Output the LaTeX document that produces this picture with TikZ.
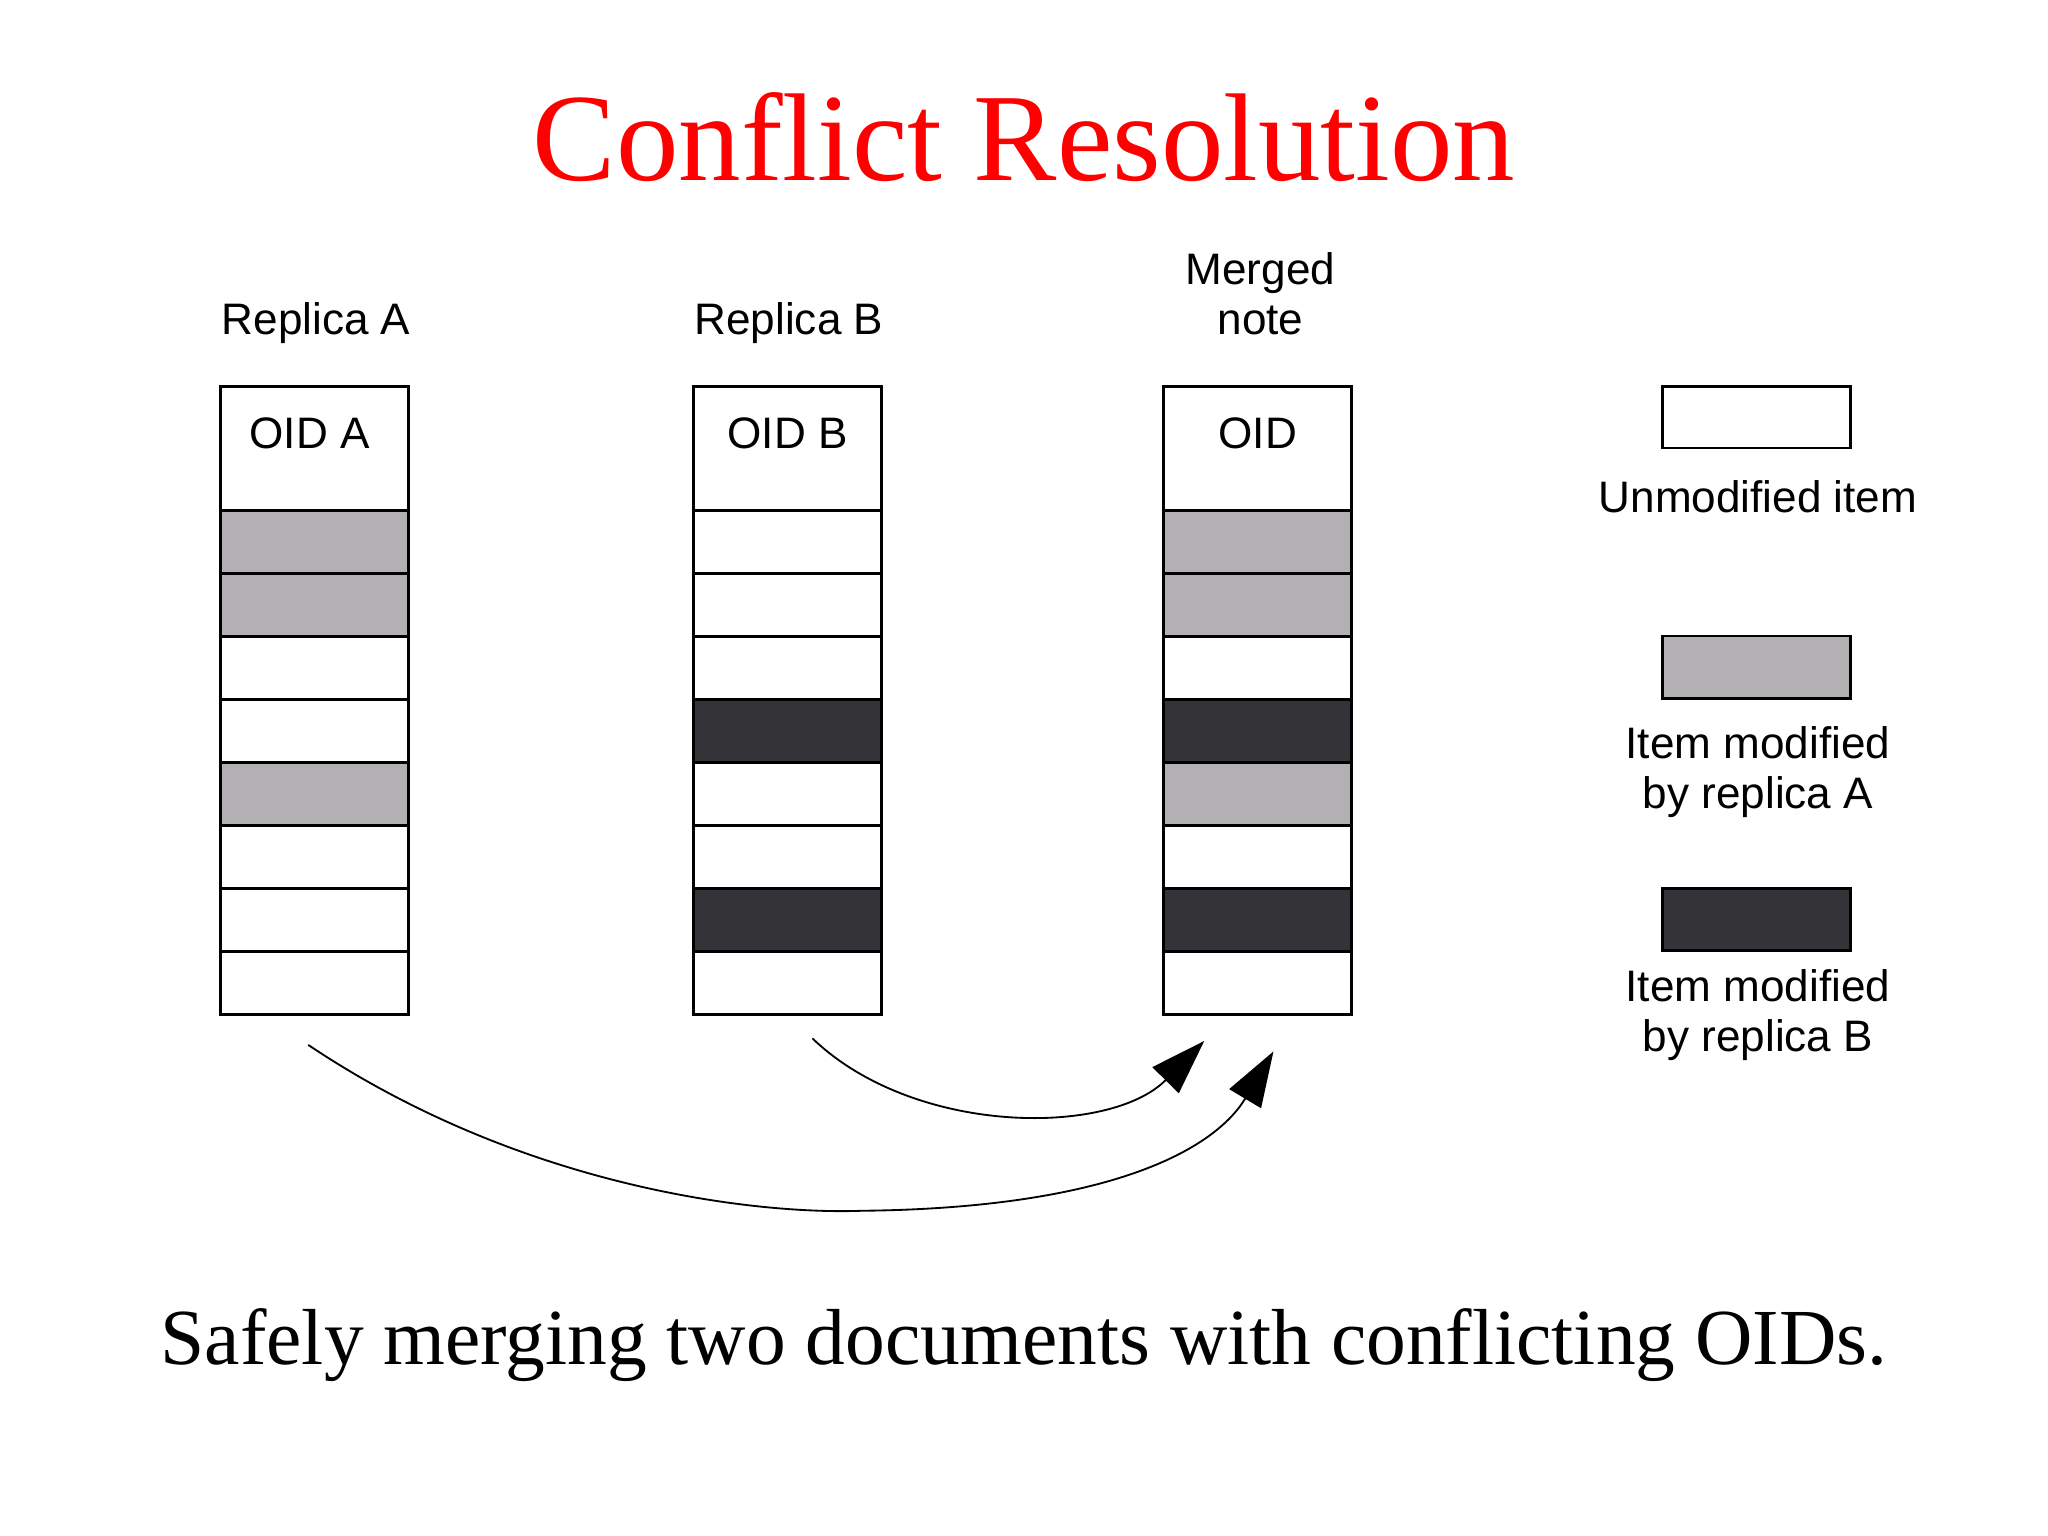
\documentclass[tikz,border=0pt]{standalone}
\usepackage{fontspec}
\setmainfont{Liberation Serif}
\newfontfamily\arial{Liberation Sans}
\usetikzlibrary{arrows.meta}
\begin{document}
\begin{tikzpicture}[x=0.01cm,y=-0.01cm,
  cellbox/.style={draw=black,line width=0.6pt},
  lbl/.style={font=\arial\fontsize{9.6}{10.8}\selectfont,align=center},
  oidtxt/.style={font=\arial\fontsize{9.6}{11}\selectfont},
  arr/.style={line width=0.4pt,-{Triangle[length=12pt,width=8pt]}}]
\definecolor{ga}{RGB}{178,176,178}
\definecolor{db}{RGB}{52,51,55}
\useasboundingbox (0,0) rectangle (1568,1176);
\node[text=red,font=\fontsize{27.2}{31}\selectfont] (title) at (784,105) {Conflict Resolution};
% columns
\def\col#1#2#3{%
  \draw[cellbox] (#1,296) rectangle ++(144,95);
  \foreach \c [count=\i from 0] in {#2} {
    \pgfmathsetmacro\yy{391+48.2*\i}
    \fill[\c] (#1,\yy) rectangle ++(144,48.2);
    \draw[cellbox] (#1,\yy) rectangle ++(144,48.2);
  }}
\col{169}{ga,ga,white,white,ga,white,white,white}{}
\col{531}{white,white,white,db,white,white,db,white}{}
\col{891}{ga,ga,white,db,ga,white,db,white}{}
\node[oidtxt] (oa) at (237,332) {OID A};
\node[oidtxt] (ob) at (603,332) {OID B};
\node[oidtxt] (om) at (963,332) {OID};
\node[lbl] (la) at (242,247) {Replica A};
\node[lbl] (lb) at (604,247) {Replica B};
\node[lbl] (lm) at (965,225) {Merged\\note};
% legend
\draw[cellbox] (1273,296) rectangle (1417,343);
\fill[ga] (1273,487) rectangle (1417,535); \draw[cellbox] (1273,487) rectangle (1417,535);
\fill[db] (1273,680) rectangle (1417,728); \draw[cellbox] (1273,680) rectangle (1417,728);
\node[lbl] (l1) at (1346,380) {Unmodified item};
\node[lbl] (l2) at (1346,591) {Item modified\\by replica A};
\node[lbl] (l3) at (1346,777) {Item modified\\by replica B};
% arrows
\coordinate (s1) at (622,795); \coordinate (e1) at (922,797);
\coordinate (s2) at (236,800); \coordinate (e2) at (975,805);
\draw[arr] (s1) .. controls (700,870) and (850,870) .. (e1);
\draw[arr] (s2) .. controls (400,910) and (580,930) .. (660,927) .. controls (850,925) and (930,880) .. (e2);
\node[font=\fontsize{17.3}{20}\selectfont] (cap) at (784,1030) {Safely merging two documents with conflicting OIDs.};
\end{tikzpicture}
\end{document}
